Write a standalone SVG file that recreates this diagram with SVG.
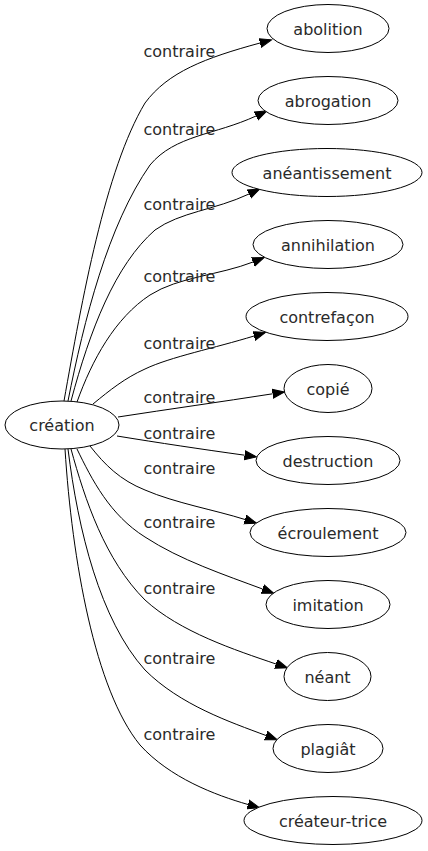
<svg xmlns="http://www.w3.org/2000/svg" width="428" height="851" viewBox="0 0 428 851">
<defs>
<style>
.n ellipse{fill:#fff;stroke:#000;stroke-width:1}
text{font-family:"DejaVu Sans","Liberation Sans",sans-serif;font-size:16px;fill:#2a2a2a}
.n text{text-anchor:middle}
.e path{fill:none;stroke:#000;stroke-width:1;marker-end:url(#ah)}
.lab text{text-anchor:start}
</style>
<marker id="ah" markerUnits="userSpaceOnUse" markerWidth="14" markerHeight="12" refX="0" refY="5" orient="auto" viewBox="0 0 14 10">
<path d="M0,0.5 L12,5 L0,9.5 Z" fill="#000" stroke="#000" stroke-width="1"/>
</marker>
</defs>
<rect width="428" height="851" fill="#fff"/>
<g id="edges" class="e">
<path d="M64,401 C82,300 105,170 145,103 C168,72 205,58 260,43"/>
<path d="M68,401 C84,320 108,225 150,165 C175,135 215,135 256,116"/>
<path d="M71,401 C90,330 115,265 155,230 C180,212 215,210 249,194"/>
<path d="M77,402 C92,360 115,318 150,295 C178,277 220,275 253,262"/>
<path d="M93,404 C110,390 125,378 145,369 C170,357 215,348 254,336"/>
<path d="M118,417 C170,409 220,402 272.6,393.8"/>
<path d="M117,436 C160,443 200,449 244.6,455.2"/>
<path d="M90,446 C105,465 120,480 145,490 C175,503 215,510 245,519.5"/>
<path d="M77,449 C92,480 110,515 145,537 C180,560 225,575 262.5,589"/>
<path d="M71,449 C85,500 105,560 145,600 C180,632 235,650 276,664"/>
<path d="M68,449 C78,530 100,620 145,670 C180,705 230,722 266,735.5"/>
<path d="M65,449 C72,560 95,690 140,745 C170,778 215,795 248,804.5"/>
</g>
<g id="labels" class="lab">
<text x="143.5" y="57">contraire</text>
<text x="143.5" y="135">contraire</text>
<text x="143.5" y="210">contraire</text>
<text x="143.5" y="282">contraire</text>
<text x="143.5" y="349">contraire</text>
<text x="143.5" y="403">contraire</text>
<text x="143.5" y="439">contraire</text>
<text x="143.5" y="474">contraire</text>
<text x="143.5" y="528">contraire</text>
<text x="143.5" y="594">contraire</text>
<text x="143.5" y="664">contraire</text>
<text x="143.5" y="740">contraire</text>
</g>
<g id="creation" class="n"><ellipse cx="62" cy="425" rx="57" ry="24"/><text x="62" y="430.5">création</text></g>
<g id="abolition" class="n"><ellipse cx="328" cy="28.5" rx="61" ry="24"/><text x="328" y="34.5">abolition</text></g>
<g id="abrogation" class="n"><ellipse cx="328" cy="100.5" rx="70" ry="24"/><text x="328" y="106.5">abrogation</text></g>
<g id="aneantissement" class="n"><ellipse cx="327" cy="172.5" rx="95" ry="24"/><text x="327" y="178.5">anéantissement</text></g>
<g id="annihilation" class="n"><ellipse cx="328" cy="244.5" rx="75" ry="24"/><text x="328" y="250.5">annihilation</text></g>
<g id="contrefacon" class="n"><ellipse cx="327" cy="316.5" rx="81" ry="24"/><text x="327" y="322.5">contrefaçon</text></g>
<g id="copie" class="n"><ellipse cx="328" cy="388.5" rx="44" ry="24"/><text x="328" y="394.5">copié</text></g>
<g id="destruction" class="n"><ellipse cx="328" cy="460.5" rx="72" ry="24"/><text x="328" y="466.5">destruction</text></g>
<g id="ecroulement" class="n"><ellipse cx="328" cy="532.5" rx="78" ry="24"/><text x="328" y="538.5">écroulement</text></g>
<g id="imitation" class="n"><ellipse cx="328" cy="604.5" rx="62" ry="24"/><text x="328" y="610.5">imitation</text></g>
<g id="neant" class="n"><ellipse cx="327.5" cy="676.5" rx="43.5" ry="24"/><text x="327.5" y="682.5">néant</text></g>
<g id="plagiat" class="n"><ellipse cx="328" cy="748.5" rx="55" ry="24"/><text x="328" y="754.5">plagiât</text></g>
<g id="createur-trice" class="n"><ellipse cx="333" cy="820.5" rx="89" ry="24"/><text x="333" y="826.5">créateur-trice</text></g>
</svg>
